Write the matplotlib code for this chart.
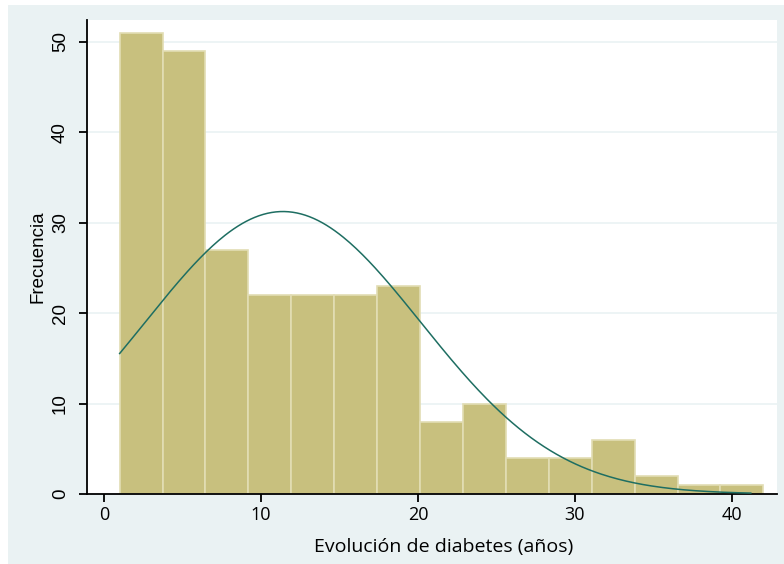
import numpy as np
import matplotlib
matplotlib.use("Agg")
import matplotlib.pyplot as plt
from matplotlib.patches import Rectangle

# histogram: 15 bins between 1 and 42 years
bin_start = 1.0
bin_end = 42.0
counts = [51, 49, 27, 22, 22, 22, 23, 8, 10, 4, 4, 6, 2, 1, 1]

# normal curve overlay
mean_years = 11.4
sd_years = 8.8

xticks = [0, 10, 20, 30, 40]
yticks = [0, 10, 20, 30, 40, 50]

bg = "#eaf2f3"
bar_fill = "#c8c07e"
bar_edge = "#e2ddb4"
curve_col = "#1e6e62"

fig = plt.figure(figsize=(7.84, 5.64), dpi=100)
fig.patch.set_facecolor("white")
fig.patches.append(Rectangle((8 / 784, 0), 1, 1 - 5 / 564, transform=fig.transFigure,
                             facecolor=bg, edgecolor="none", zorder=-10))

ax = fig.add_axes([87 / 784, 70 / 564, 690 / 784, 474 / 564])
ax.set_facecolor("white")

n_bins = len(counts)
edges = np.linspace(bin_start, bin_end, n_bins + 1)
width = edges[1] - edges[0]
ax.bar(edges[:-1], counts, width=width, align="edge", color=bar_fill,
       edgecolor=bar_edge, linewidth=1.2, zorder=2)

# scaled normal density
total = sum(counts)
xs = np.linspace(bin_start, 41.2, 300)
dens = np.exp(-0.5 * ((xs - mean_years) / sd_years) ** 2) / (sd_years * np.sqrt(2 * np.pi))
ax.plot(xs, dens * total * width, color=curve_col, linewidth=1.1, zorder=3)

ax.set_xlim(-1.08, 42.87)
ax.set_ylim(0, 52.4)

for y in yticks[1:]:
    ax.axhline(y, color=bg, linewidth=1.2, zorder=1)

ax.spines["top"].set_visible(False)
ax.spines["right"].set_visible(False)
ax.spines["left"].set_linewidth(1.3)
ax.spines["bottom"].set_linewidth(1.3)

ax.set_xticks(xticks)
ax.set_yticks(yticks)
ax.tick_params(axis="both", direction="out", length=6, width=1.3, color="black")
ax.set_xticklabels([str(t) for t in xticks], fontsize=13, family="Open Sans")
ax.set_yticklabels([str(t) for t in yticks], fontsize=13.5, family="Liberation Sans",
                   rotation=90, va="center")
ax.tick_params(axis="x", pad=3)
ax.tick_params(axis="y", pad=7)

ax.set_xlabel("Evolución de diabetes (años)", fontsize=14, family="Open Sans")
ax.xaxis.set_label_coords(0.517, -0.112)
ax.xaxis.label.set_va("center")
ax.set_ylabel("Frecuencia", fontsize=13.5, family="Liberation Sans")
ax.yaxis.set_label_coords(-0.071, 0.5)
ax.yaxis.label.set_va("center")

fig.savefig("out.png", dpi=100, facecolor=fig.get_facecolor())
